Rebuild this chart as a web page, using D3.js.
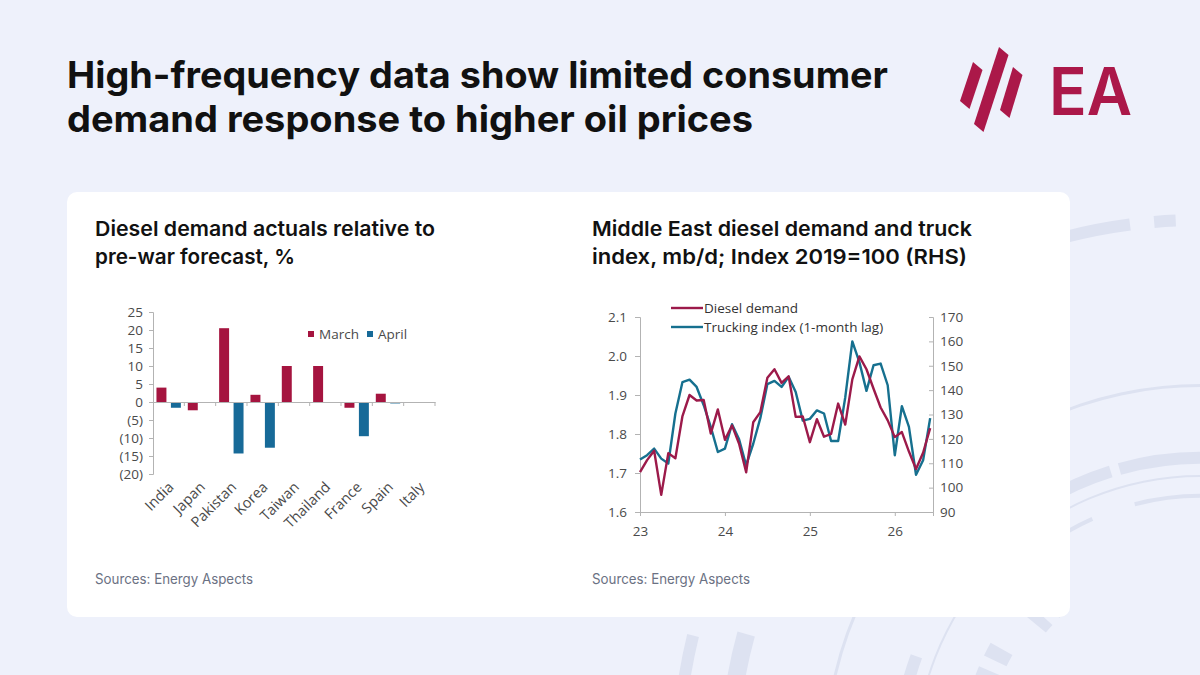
<!DOCTYPE html>
<html><head><meta charset="utf-8">
<script src="https://cdn.jsdelivr.net/npm/d3@7/dist/d3.min.js"></script>
<style>
html,body{margin:0;padding:0;background:#eef1fb;}
svg{display:block;}
</style></head>
<body>
<svg id="c" width="1200" height="675"></svg>
<script>
// ---------- DATA ----------
const titleLines = ["High-frequency data show limited consumer", "demand response to higher oil prices"];
const leftTitle = ["Diesel demand actuals relative to", "pre-war forecast, %"];
const rightTitle = ["Middle East diesel demand and truck", "index, mb/d; Index 2019=100 (RHS)"];
const sourceText = "Sources: Energy Aspects";

const categories = ["India","Japan","Pakistan","Korea","Taiwan","Thailand","France","Spain","Italy"];
const marchValues = [4.0, -2.3, 20.5, 2.0, 10.0, 10.0, -1.6, 2.3, 0];
const aprilValues = [-1.6, 0, -14.3, -12.7, 0, 0, -9.5, -0.4, 0];
const barSeries = ["March", "April"];
const barTicks = [25,20,15,10,5,0,-5,-10,-15,-20];

const monthIndex = d3.range(42); // Jan-23 .. Jun-26
const dieselDemand = [1.702,1.733,1.757,1.644,1.751,1.738,1.846,1.900,1.886,1.887,1.801,1.863,
  1.785,1.822,1.775,1.702,1.830,1.856,1.944,1.966,1.931,1.948,1.844,1.845,
  1.779,1.838,1.793,1.800,1.878,1.824,1.940,1.999,1.966,1.916,1.868,1.835,
  1.792,1.805,1.755,1.710,1.752,1.815];
const truckingIndex = [111.5,113.3,116.0,111.9,109.9,130.4,143.3,144.3,141.3,133.8,124.9,114.6,
  116.0,126.0,119.8,109.2,118.0,128.5,142.5,143.8,141.3,145.5,139.2,127.5,
  128.2,131.7,130.4,119.1,119.1,137.0,160.0,151.5,139.7,150.2,150.9,142.0,
  113.3,133.4,124.9,105.3,111.2,128.5];
const lineSeries = ["Diesel demand", "Trucking index (1-month lag)"];
const yearTicks = [0,12,24,36];
const yearLabels = ["23","24","25","26"];
const leftTicks = [1.6,1.7,1.8,1.9,2.0,2.1];
const rightTicks = [90,100,110,120,130,140,150,160,170];

// ---------- STYLE ----------
const RED = "#a5143f", BLUE = "#176a98";
const LINE_RED = "#9c1a4a", LINE_BLUE = "#16708f";
const AXIS = "#b3b3b3", LBL = "#4a4a4a";
const chartFont = "'Open Sans', 'Noto Sans', sans-serif";
const headFont = "Inter, 'Noto Sans', sans-serif";

const svg = d3.select("#c");

function fit(sel, w){
  const n = sel.node(); const L = n.getComputedTextLength();
  if (Math.abs(L - w) / w < 0.2) sel.attr("textLength", w).attr("lengthAdjust", "spacingAndGlyphs");
}

// ---------- BACKGROUND DECORATION ----------
const deco = svg.append("g").attr("fill", "#dde2f1");
const arcG = d3.arc();
const C = [1200, 760];
const decoArcs = [
  {r0:534,r1:546,a0:-0.25,a1:-0.13},{r0:534,r1:546,a0:-0.085,a1:-0.045},
  {r0:516,r1:528,a0:-1.62,a1:-1.33},
  {r0:462,r1:480,a0:-1.56,a1:-1.30},
  {r0:373,r1:376,a0:-1.45,a1:0.35},
  {r0:296,r1:308,a0:-0.55,a1:-0.30},{r0:296,r1:308,a0:-0.27,a1:0.25},
  {r0:296,r1:308,a0:-1.45,a1:-1.22},
  {r0:283,r1:285,a0:-1.3,a1:0.3},
  {r0:262,r1:266,a0:-0.62,a1:-0.42},{r0:262,r1:266,a0:-0.25,a1:0.3},
  {r0:200,r1:235,a0:-0.78,a1:-0.72},{r0:200,r1:235,a0:-0.88,a1:-0.83},
  {r0:215,r1:240,a0:-1.12,a1:-1.06},{r0:200,r1:240,a0:-1.22,a1:-1.17}
];
deco.selectAll("path").data(decoArcs).join("path")
  .attr("transform", `translate(${C[0]},${C[1]})`)
  .attr("d", d => arcG({innerRadius:d.r0, outerRadius:d.r1, startAngle:d.a0, endAngle:d.a1}));

// ---------- CARD ----------
svg.append("rect").attr("x",67).attr("y",192).attr("width",1003).attr("height",425)
  .attr("rx",10).attr("fill","#ffffff");

// ---------- HEADER ----------
const tl = svg.append("g").attr("font-family", headFont).attr("font-weight", 700)
  .attr("font-size", 37).attr("fill", "#111111");
const tlW = [821, 686];
titleLines.forEach((t,i) => {
  const s = tl.append("text").attr("x", 67).attr("y", 88 + i*44).text(t);
  fit(s, tlW[i]);
});

// Logo
const logo = svg.append("g").attr("fill", "#ab1849");
const stripes = [
  {t:[973,62], b:[960,101]},
  {t:[999,47], b:[974,124]},
  {t:[1013,67], b:[1000,110]}
];
const sw = 9.5;
logo.selectAll("path").data(stripes).join("path")
  .attr("d", d => `M${d.t[0]},${d.t[1]} L${d.t[0]+sw},${d.t[1]+8} L${d.b[0]+sw},${d.b[1]+8} L${d.b[0]},${d.b[1]} Z`);
const ea = logo.append("text").attr("x", 1049).attr("y", 115).attr("font-family", headFont)
  .attr("font-weight", 600).attr("font-size", 66).text("EA");
fit(ea, 83);

// Subtitles
const sub = svg.append("g").attr("font-family", headFont).attr("font-weight", 600)
  .attr("font-size", 20.5).attr("fill", "#111111");
const lW = [340, 200], rW = [380, 375];
leftTitle.forEach((t,i) => { fit(sub.append("text").attr("x",95).attr("y",236+i*28).text(t), lW[i]); });
rightTitle.forEach((t,i) => { fit(sub.append("text").attr("x",592).attr("y",236+i*28).text(t), rW[i]); });

const src = svg.append("g").attr("font-family", headFont).attr("font-size", 14).attr("fill", "#6b7183");
fit(src.append("text").attr("x",95).attr("y",584).text(sourceText), 158);
fit(src.append("text").attr("x",592).attr("y",584).text(sourceText), 158);

// ---------- BAR CHART ----------
const bar = svg.append("g").attr("font-family", chartFont);
const xB = d3.scaleBand().domain(categories).range([153, 435]).padding(0);
const xS = d3.scaleBand().domain(barSeries).range([0, xB.bandwidth()]).paddingInner(0.31).paddingOuter(0.24);
const yB = d3.scaleLinear().domain([-20, 25]).range([474, 312]);
const barData = categories.flatMap((c,i) => [
  {c, s:"March", v:marchValues[i]}, {c, s:"April", v:aprilValues[i]}
]).filter(d => d.v !== 0);
bar.append("g").selectAll("rect").data(barData).join("rect")
  .attr("x", d => xB(d.c) + xS(d.s))
  .attr("width", xS.bandwidth())
  .attr("y", d => yB(Math.max(0, d.v)))
  .attr("height", d => Math.abs(yB(d.v) - yB(0)))
  .attr("fill", d => d.s === "March" ? RED : BLUE);

const fmtP = v => v < 0 ? `(${Math.abs(v)})` : `${v}`;
const yAx = bar.append("g").attr("transform", "translate(153,0)")
  .call(d3.axisLeft(yB).tickValues(barTicks).tickFormat(fmtP).tickSize(4).tickPadding(6));
yAx.select(".domain").attr("stroke", AXIS);
yAx.selectAll(".tick line").attr("stroke", AXIS);
yAx.selectAll("text").attr("fill", LBL).attr("font-size", 13.5).attr("font-family", chartFont);

// zero axis
const xAx = bar.append("g").attr("transform", `translate(0,${yB(0)})`)
  .call(d3.axisBottom(xB).tickSize(0).tickFormat(""));
xAx.select(".domain").attr("stroke", AXIS);
bar.append("g").selectAll("line").data(categories).join("line")
  .attr("x1", d => xB(d) + xB.bandwidth()).attr("x2", d => xB(d) + xB.bandwidth())
  .attr("y1", yB(0)).attr("y2", yB(0) + 4).attr("stroke", AXIS);
// rotated category labels
bar.append("g").selectAll("text").data(categories).join("text")
  .attr("transform", d => `translate(${xB(d) + xB.bandwidth()/2 + 6},${488}) rotate(-45)`)
  .attr("text-anchor", "end").attr("font-size", 14.5).attr("fill", LBL).text(d => d);

// legend
const lg = bar.append("g").attr("font-size", 13.5).attr("fill", LBL);
const legPos = [{s:"March", x:308, c:RED}, {s:"April", x:367, c:BLUE}];
legPos.forEach(p => {
  lg.append("rect").attr("x", p.x).attr("y", 331).attr("width", 6).attr("height", 6).attr("fill", p.c);
  lg.append("text").attr("x", p.x + 11).attr("y", 339).text(p.s);
});

// ---------- LINE CHART ----------
const ln = svg.append("g").attr("font-family", chartFont);
const xL = d3.scaleLinear().domain([0, 41.4]).range([640, 933]);
const yL = d3.scaleLinear().domain([1.6, 2.1]).range([512, 317]);
const yR = d3.scaleLinear().domain([90, 170]).range([512, 317]);

const lAx = ln.append("g").attr("transform", "translate(640,0)")
  .call(d3.axisLeft(yL).tickValues(leftTicks).tickFormat(d3.format(".1f")).tickSize(5).tickPadding(8));
const rAx = ln.append("g").attr("transform", "translate(933,0)")
  .call(d3.axisRight(yR).tickValues(rightTicks).tickSize(-4).tickPadding(8));
const bAx = ln.append("g").attr("transform", "translate(0,512)")
  .call(d3.axisBottom(xL).tickValues(yearTicks).tickFormat((d,i) => yearLabels[i]).tickSize(4).tickPadding(10));
[lAx, rAx, bAx].forEach(a => {
  a.select(".domain").attr("stroke", AXIS);
  a.selectAll(".tick line").attr("stroke", AXIS);
  a.selectAll("text").attr("fill", LBL).attr("font-size", 13.5).attr("font-family", chartFont);
});
rAx.selectAll("text").attr("x", 7);

const dieselPts = monthIndex.map((m,i) => [xL(m), yL(dieselDemand[i])]);
const truckPts = monthIndex.map((m,i) => [xL(m), yR(truckingIndex[i])]);
const lineGen = d3.line();
ln.append("path").attr("d", lineGen(truckPts)).attr("fill","none")
  .attr("stroke", LINE_BLUE).attr("stroke-width", 2.4).attr("stroke-linejoin","round");
ln.append("path").attr("d", lineGen(dieselPts)).attr("fill","none")
  .attr("stroke", LINE_RED).attr("stroke-width", 2.4).attr("stroke-linejoin","round");

// line legend
const ll = ln.append("g").attr("font-size", 13.5).attr("fill", "#333333");
const llCol = [LINE_RED, LINE_BLUE];
lineSeries.forEach((s,i) => {
  const y = 308 + i*19;
  ll.append("line").attr("x1", 671).attr("x2", 703).attr("y1", y).attr("y2", y)
    .attr("stroke", llCol[i]).attr("stroke-width", 2.4);
  ll.append("text").attr("x", 704).attr("y", y + 5).text(s);
});
</script>
</body></html>
